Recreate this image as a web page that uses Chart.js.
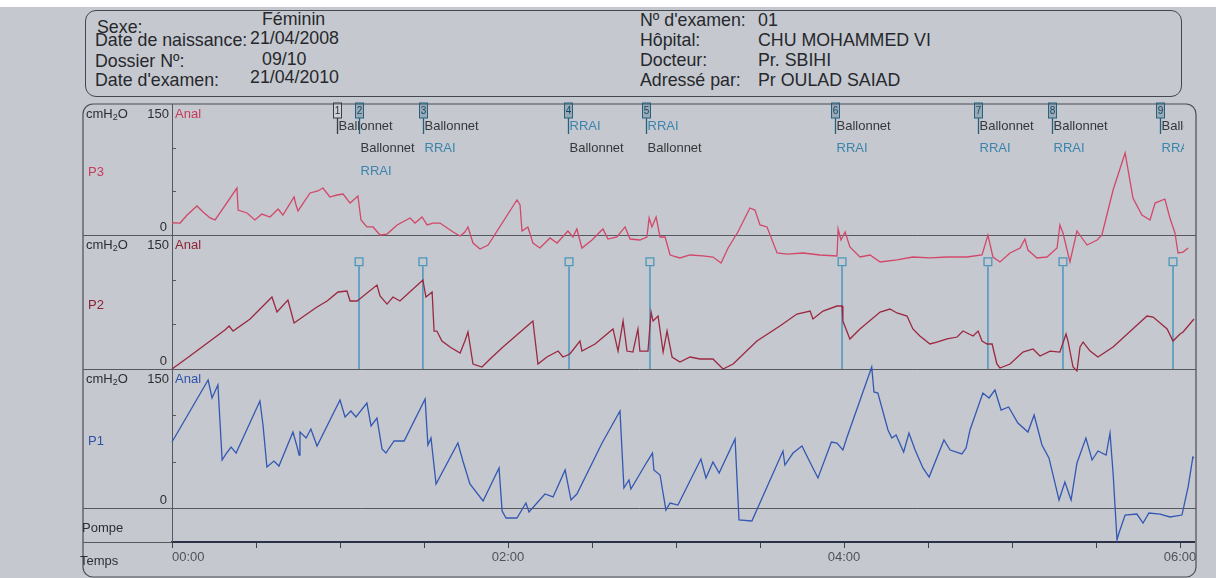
<!DOCTYPE html>
<html lang="fr">
<head>
<meta charset="utf-8">
<title>Manométrie anorectale</title>
<script src="https://cdn.jsdelivr.net/npm/chart.js@4.4.1/dist/chart.umd.min.js"></script>
<style>
  html, body { margin: 0; padding: 0; }
  body { width: 1216px; height: 578px; position: relative; overflow: hidden; background: #c5c8ce;
         font-family: "Liberation Sans", Arial, sans-serif; color: #26282d; }
  #strip { position: absolute; left: 0; top: 0; width: 1216px; height: 7px; background: #fff; }
  #patient { position: absolute; left: 85px; top: 10px; width: 1097px; height: 87px; box-sizing: border-box;
             border: 1.3px solid #44474d; border-radius: 11px; }
  .t { position: absolute; font-size: 17.8px; line-height: 18px; white-space: nowrap; }
  canvas { position: absolute; left: 0; top: 0; }
</style>
</head>
<body>
<div id="strip"></div>
<div id="patient"></div>
<span class="t" style="left:97px;top:18px">Sexe:</span>
<span class="t" style="left:95px;top:31px">Date de naissance:</span>
<span class="t" style="left:95px;top:52px">Dossier Nº:</span>
<span class="t" style="left:95px;top:71px">Date d'examen:</span>
<span class="t" style="left:262px;top:10px">Féminin</span>
<span class="t" style="left:250px;top:29px">21/04/2008</span>
<span class="t" style="left:262px;top:50px">09/10</span>
<span class="t" style="left:250px;top:68px">21/04/2010</span>
<span class="t" style="left:640px;top:11px">Nº d'examen:</span>
<span class="t" style="left:640px;top:31px">Hôpital:</span>
<span class="t" style="left:640px;top:51px">Docteur:</span>
<span class="t" style="left:640px;top:71px">Adressé par:</span>
<span class="t" style="left:758px;top:11px">01</span>
<span class="t" style="left:758px;top:31px">CHU MOHAMMED VI</span>
<span class="t" style="left:758px;top:51px">Pr. SBIHI</span>
<span class="t" style="left:758px;top:71px">Pr OULAD SAIAD</span>
<canvas id="trace" width="1216" height="578"></canvas>
<script>
// time in seconds, pressure in cmH2O
const timeTicks = [0, 30, 60, 90, 120, 150, 180, 210, 240, 270, 300, 330, 360, 365];
const timeLabels = ['00:00', '02:00', '04:00', '06:00'];

const p3Trace = [
  [0,14],[2.9,13.7],[5.4,22.9],[8.9,33.2],[11.1,26.3],[13.6,19.5],[15.4,17.2],[23.2,53.8],[23.6,28.6],
  [26.8,25.2],[29.6,17.2],[32.1,24],[35,20.6],[37.9,29.8],[39.6,22.9],[43.6,43.5],[44.3,34.4],[45,27.5],
  [49.3,48.1],[52.1,50.4],[53.9,53.8],[56.4,43.5],[58.9,45.8],[61.1,46.9],[63.6,36.6],[66.4,44.7],
  [67.5,17.2],[69.6,9.2],[71.8,9.2],[74.3,0],[76.8,1.1],[80.4,11.5],[85,19.5],[86.8,13.7],[89.3,20.6],
  [91.1,11.5],[93.2,13.7],[95.7,13.7],[100.4,3.4],[102.9,-1.1],[104.6,3.4],[105.7,9.2],[107.5,-9.2],
  [110,-16],[112.9,-11.5],[123.2,40.1],[124.3,34.4],[125,4.6],[127.1,9.2],[128.9,-9.2],[131.4,-14.9],
  [135,-3.4],[137.5,-9.2],[141.4,4.6],[143.2,-2.3],[144.6,6.9],[146.4,-14.9],[150,-5.7],[153.9,6.9],
  [155.7,-4.6],[158.9,-2.3],[161.8,9.2],[163.6,-4.6],[167.1,-5.7],[169.6,-2.3],[170.4,19.5],[171.4,9.2],
  [172.9,20.6],[174.3,-2.3],[176.1,-2.3],[177.9,-22.9],[181.4,-26.3],[185,-22.9],[189.6,-24],[193.2,-25.2],
  [196.1,-32.1],[198.6,-14.9],[202.1,3.4],[206.4,30.9],[208.2,28.6],[210,11.5],[212.5,9.2],[216.1,-20.6],
  [219.6,-21.8],[225.4,-20.6],[231.4,-22.9],[237.5,-24],[237.9,6.9],[238.9,-5.7],[240.4,3.4],[242.1,-13.7],
  [245.7,-25.2],[249.3,-22.9],[252.9,-30.9],[258.9,-28.6],[264.6,-25.2],[270.7,-26.3],[276.8,-25.2],
  [283.9,-25.2],[289.3,-22.9],[291.4,0],[293.2,-25.2],[295.7,-30.9],[299.3,-20.6],[302.9,-14.9],[304.6,-4.6],
  [305.7,-17.2],[308.9,-26.3],[312.5,-25.2],[316.1,-14.9],[317.1,11.5],[318.2,2.3],[320.7,-30.9],[323.2,4.6],
  [326.8,-11.5],[330.4,-5.7],[332.1,0],[336.1,51.5],[340.4,93.9],[343.2,42.4],[346.4,22.9],[349.3,17.2],
  [351.1,36.6],[354.6,41.2],[356.4,19.5],[358.2,2.3],[359.3,-20.6],[361.1,-19.5],[362.9,-14.9]
];

const p2Trace = [
  [0,0],[6.4,14.5],[13.6,31.3],[18.9,43.6],[20.4,48.1],[21.8,42.5],[27.9,56],[35.7,80.6],[37.5,63.8],
  [41.4,77.2],[43.6,51.5],[48.2,61.5],[51.8,69.4],[55.4,76.1],[59.3,86.2],[62.5,87.3],[63.6,76.1],[66.1,76.1],
  [67.9,80.6],[73.2,94],[74.3,81.7],[76.8,72.7],[78.9,80.6],[81.4,76.1],[89.6,99.6],[90.7,80.6],[92.9,86.2],
  [93.6,42.5],[94.6,42.5],[96.4,31.3],[99.3,24.6],[102.9,17.9],[104.6,31.3],[105.7,41.4],[107.5,5.6],
  [110.7,2.2],[113.6,11.2],[118.2,24.6],[128.9,53.7],[130.7,5.6],[133.9,13.4],[137.9,20.1],[139.6,13.4],
  [142.1,16.8],[145.7,31.3],[146.4,20.1],[151.1,28],[157.5,44.8],[159.3,20.1],[161.1,53.7],[162.5,20.1],
  [164.6,19],[166.4,44.8],[167.1,20.1],[170,20.1],[171.1,63.8],[171.8,53.7],[173.6,59.3],[175.4,19],
  [176.8,42.5],[178.6,13.4],[181.4,7.8],[185,13.4],[188.6,11.2],[193.2,11.2],[196.8,0],[200.4,5.6],
  [208.9,31.3],[217.1,48.1],[223.2,61.5],[227.9,64.9],[228.9,56],[232.5,64.9],[237.5,70.5],[239.3,70.5],
  [239.6,53.7],[242.1,33.6],[245.7,44.8],[252.9,63.8],[256.4,67.1],[258.9,62.7],[262.5,59.3],[264.6,44.8],
  [267.1,36.9],[270.7,28],[273.2,30.2],[276.8,33.6],[280.4,35.8],[282.5,42.5],[286.1,36.9],[287.9,42.5],
  [289.3,31.3],[291.1,28],[292.9,28],[294.6,5.6],[295.7,1.1],[299.3,5.6],[303.9,19],[307.5,22.4],[310,14.5],
  [313.6,20.1],[317.1,19],[319.3,39.2],[320,31.3],[321.8,2.2],[323.2,-2.2],[324.3,24.6],[325.4,30.2],
  [327.9,20.1],[330.7,13.4],[336.1,24.6],[348.2,59.3],[350.4,58.2],[355.4,44.8],[357.5,31.3],[360,39.2],
  [361.1,41.4],[365,56]
];

const p1Trace = [
  [0,71.2],[12.9,138.1],[14.3,118.7],[16.4,132.7],[17.9,51.8],[19.3,58.3],[21.1,65.8],[22.9,59.3],
  [31.4,115.5],[32.5,89.6],[33.9,44.2],[36.4,50.7],[38.2,45.3],[43.2,82],[44.6,66.9],[45.4,57.2],[45.7,82],
  [47.9,75.5],[49.6,85.2],[51.8,66.9],[60,116.5],[61.8,98.2],[63.9,104.7],[65.7,98.2],[69.6,113.3],
  [71.1,88.5],[73.2,97.1],[75,63.7],[76.4,59.3],[79.3,72.3],[82.9,72.3],[90.4,117.6],[91.4,68],[92.5,75.5],
  [94.3,25.9],[102.1,70.1],[103.9,50.7],[106.4,25.9],[111.1,7.6],[116.8,43.2],[117.9,-3.2],[119.3,-10.8],
  [123.2,-10.8],[126.4,5.4],[127.5,-4.3],[133.2,15.1],[136.1,11.9],[140.4,41],[142.5,8.6],[144.6,15.1],
  [153.6,70.1],[160,104.7],[161.4,21.6],[163.2,30.2],[163.9,20.5],[169.6,49.6],[171.6,59.3],[172.1,41],
  [174.3,35.6],[176.4,-2.2],[177.9,5.4],[180.7,3.2],[188.9,52.9],[190.7,32.4],[193.2,49.6],[195.4,37.8],
  [201.1,74.5],[202.5,-12.9],[207.1,-14],[218.2,61.5],[218.9,46.4],[221.8,59.3],[225,66.9],[227.1,54],
  [230.7,32.4],[235.5,71.2],[237.5,70.1],[239.6,62.6],[241.1,76.6],[249.9,152.1],[250.7,125.2],[252.1,124.1],
  [255.7,84.2],[257.1,75.5],[258.6,78.8],[261.3,60.4],[263.2,80.9],[265.4,62.6],[268.2,43.2],[270.4,33.4],
  [275.7,73.4],[277.9,62.6],[282.1,58.3],[283.6,64.7],[285,84.2],[289.6,124.1],[291.8,118.7],[293.9,127.3],
  [296.1,105.7],[298.8,109],[302.1,91.7],[305.7,82],[307.9,100.3],[310.7,68],[313.2,54],[316.8,8.6],
  [318.9,28.1],[321.1,8.6],[323.2,48.6],[326.4,75.5],[328.6,51.8],[330.7,61.5],[333.6,57.2],[335,80.9],
  [336.1,37.8],[337.5,-34.5],[338.2,-27],[340.4,-7.6],[344.6,-6.5],[346.8,-16.2],[348.9,-5.4],[352.9,-6.5],
  [356.4,-9.7],[360.7,-7.6],[362.9,22.7],[364.6,55],[365,54]
];

// RRAI event marks on P2, and the numbered flags at the top with their notes
const eventTimes = [66.8, 89.6, 141.8, 170.7, 239.3, 291.4, 318.2, 357.5];
const flagTimes = [58.9, 66.8, 89.6, 141.4, 169.3, 236.8, 287.9, 314.3, 352.9];
const flagNotes = [
  ['Ballonnet'], [null, 'Ballonnet', 'RRAI'], ['Ballonnet', 'RRAI'], ['RRAI', 'Ballonnet'],
  ['RRAI', 'Ballonnet'], ['Ballonnet', 'RRAI'], ['Ballonnet', 'RRAI'], ['Ballonnet', 'RRAI'],
  ['Ballonnet', 'RRAI']
];

const FONT = '"Liberation Sans", Arial, sans-serif';
Chart.defaults.font.family = FONT;
Chart.defaults.font.size = 13;

const panels = [
  { id: 'y3', name: 'P3', color: '#c93a5c' },
  { id: 'y2', name: 'P2', color: '#8f2136' },
  { id: 'y1', name: 'P1', color: '#2f52aa' }
];

function seg(ctx, x1, y1, x2, y2) {
  ctx.beginPath();
  ctx.moveTo(x1, y1);
  ctx.lineTo(x2, y2);
  ctx.stroke();
}

function unitLabel(ctx, x, y) {
  ctx.textAlign = 'left';
  ctx.font = '13px ' + FONT;
  ctx.fillText('cmH', x, y);
  const w = ctx.measureText('cmH').width;
  ctx.font = '9px ' + FONT;
  ctx.fillText('2', x + w, y + 4);
  const w2 = ctx.measureText('2').width;
  ctx.font = '13px ' + FONT;
  ctx.fillText('O', x + w + w2, y);
}

const sheet = {
  id: 'sheet',
  beforeDatasetsDraw(chart) {
    const { ctx, chartArea: a, scales } = chart;
    const L = 83, R = a.right + 2, T = a.top, B = 577, r = 10;
    ctx.save();
    ctx.strokeStyle = '#4a4e55';
    ctx.lineWidth = 1.2;
    ctx.beginPath();
    ctx.moveTo(L + r, T);
    ctx.arcTo(R, T, R, B, r);
    ctx.arcTo(R, B, L, B, r);
    ctx.arcTo(L, B, L, T, r);
    ctx.arcTo(L, T, R, T, r);
    ctx.closePath();
    ctx.stroke();

    ctx.lineWidth = 1;
    ctx.strokeStyle = '#55595f';
    panels.forEach(p => {
      const y = Math.round(scales[p.id].bottom) + 0.5;
      seg(ctx, L, y, R, y);
    });
    seg(ctx, L, a.bottom + 0.5, a.left, a.bottom + 0.5);
    seg(ctx, a.left + 0.5, T, a.left + 0.5, a.bottom);

    ctx.textBaseline = 'middle';
    panels.forEach(p => {
      const s = scales[p.id];
      [50, 100].forEach(v => {
        const y = Math.round(s.getPixelForValue(v)) + 0.5;
        seg(ctx, a.left, y, a.left + 4, y);
      });
      ctx.fillStyle = '#2c2e33';
      unitLabel(ctx, 86, s.top + 10);
      ctx.font = '13px ' + FONT;
      ctx.textAlign = 'right';
      ctx.fillText('150', a.left - 3, s.top + 10);
      ctx.fillText('0', a.left - 5, s.bottom - 8);
      ctx.fillStyle = p.color;
      ctx.textAlign = 'left';
      ctx.fillText('Anal', a.left + 3, s.top + 10);
      ctx.fillText(p.name, 88, (s.top + s.bottom) / 2 + 3);
    });
    const pump = scales.pompe;
    ctx.fillStyle = '#2c2e33';
    ctx.fillText('Pompe', 82, (pump.top + pump.bottom) / 2 + 3);
    ctx.fillText('Temps', 80, 561);

    // numbered flags and notes
    const xs = scales.x;
    ctx.save();
    ctx.beginPath();
    ctx.rect(a.left, T - 4, a.right - a.left - 10, 90);
    ctx.clip();
    flagTimes.forEach((t, i) => {
      const x = Math.round(xs.getPixelForValue(t)) + 0.5;
      ctx.font = '13px ' + FONT;
      ctx.textAlign = 'left';
      flagNotes[i].forEach((txt, k) => {
        if (!txt) return;
        ctx.fillStyle = txt === 'RRAI' ? '#3b84ad' : '#35373c';
        ctx.fillText(txt, x + 1, 126 + k * 22.5);
      });
      const plain = i === 0;
      ctx.strokeStyle = plain ? '#3a3c42' : '#27607f';
      ctx.fillStyle = plain ? 'rgba(255,255,255,0.15)' : 'rgba(39,96,127,0.28)';
      ctx.lineWidth = 1;
      ctx.fillRect(x - 4, 103, 8, 15);
      ctx.strokeRect(x - 4, 103, 8, 15);
      ctx.lineWidth = 1.3;
      seg(ctx, x, 118, x, 134);
      ctx.fillStyle = plain ? '#2a2b30' : '#1d4660';
      ctx.font = '10px ' + FONT;
      ctx.textAlign = 'center';
      ctx.fillText(String(i + 1), x, 111);
    });
    ctx.restore();
    ctx.restore();
  }
};

const trace = (data, axis, color) => ({
  data: data.map(([x, y]) => ({ x, y })),
  yAxisID: axis,
  borderColor: color,
  borderWidth: 1.3,
  pointRadius: 0,
  tension: 0,
  clip: false
});

const stems = eventTimes.flatMap(t => [{ x: t, y: 0 }, { x: t, y: 115 }, { x: t, y: null }]);
const heads = eventTimes.map(t => ({ x: t, y: 120 }));

new Chart(document.getElementById('trace'), {
  type: 'line',
  data: {
    datasets: [
      trace(p3Trace, 'y3', '#d2486a'),
      trace(p2Trace, 'y2', '#9a2841'),
      trace(p1Trace, 'y1', '#3358b3'),
      { data: stems, yAxisID: 'y2', borderColor: '#4c96bc', borderWidth: 1.5, pointRadius: 0, spanGaps: false, clip: false },
      { data: heads, yAxisID: 'y2', showLine: false, pointStyle: 'rect', pointRadius: 5.5,
        pointBorderColor: '#4c96bc', pointBackgroundColor: 'rgba(0,0,0,0)', pointBorderWidth: 1.3, clip: false }
    ]
  },
  options: {
    responsive: false,
    animation: false,
    devicePixelRatio: 1,
    layout: { padding: { left: 172, right: 22, top: 104, bottom: 0 } },
    plugins: { legend: { display: false }, tooltip: { enabled: false } },
    events: [],
    scales: {
      x: {
        type: 'linear',
        min: 0,
        max: 365,
        afterFit: s => { s.height = 36; },
        afterBuildTicks: s => { s.ticks = timeTicks.map(v => ({ value: v })); },
        border: { display: true, color: '#2c3146', width: 2 },
        grid: {
          drawOnChartArea: false,
          tickLength: 6,
          tickColor: c => (c.tick && c.tick.value % 30 === 0) ? '#3e424a' : 'rgba(0,0,0,0)'
        },
        ticks: {
          autoSkip: false,
          maxRotation: 0,
          align: 'inner',
          padding: 2,
          color: '#4f5258',
          font: { size: 13 },
          callback: v => (v % 120 === 0 ? timeLabels[v / 120] : '')
        }
      },
      y3: { type: 'linear', min: 0, max: 150, display: false, position: 'left', stack: 'trace', stackWeight: 131, weight: 4 },
      y2: { type: 'linear', min: 0, max: 150, display: false, position: 'left', stack: 'trace', stackWeight: 134, weight: 3 },
      y1: { type: 'linear', min: 0, max: 150, display: false, position: 'left', stack: 'trace', stackWeight: 139, weight: 2 },
      pompe: { type: 'linear', min: 0, max: 1, display: false, position: 'left', stack: 'trace', stackWeight: 34, weight: 1 }
    }
  },
  plugins: [sheet]
});
</script>
</body>
</html>
